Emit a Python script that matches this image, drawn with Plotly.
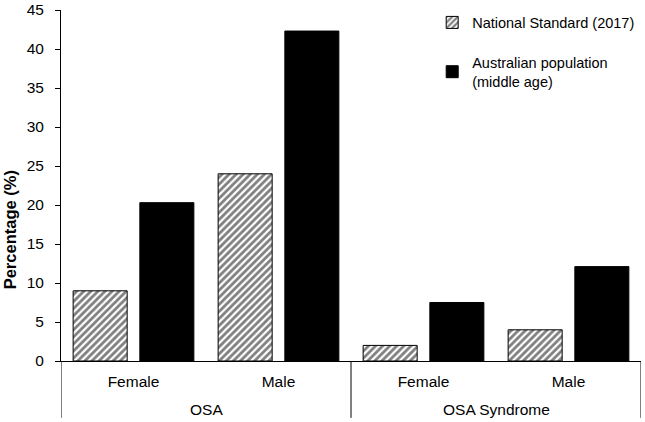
import plotly.graph_objects as go

groups = ["OSA", "OSA", "OSA Syndrome", "OSA Syndrome"]
sexes = ["Female", "Male", "Female", "Male"]
national = [9, 24, 2, 4]
australian = [20.3, 42.3, 7.5, 12.1]
y_ticks = [0, 5, 10, 15, 20, 25, 30, 35, 40, 45]
group_labels = ["OSA", "OSA Syndrome"]

cats = [g + " " + s for g, s in zip(groups, sexes)]

fig = go.Figure()
fig.add_trace(go.Bar(
    x=cats, y=national, name="National Standard (2017)", legendgroup="a",
    marker=dict(color="white", line=dict(color="black", width=1),
                pattern=dict(shape="/", fgcolor="black", bgcolor="white", size=5, solidity=0.55)),
))
fig.add_trace(go.Bar(
    x=cats, y=australian, name="Australian population<br>(middle age)", legendgroup="b",
    marker=dict(color="black", line=dict(color="black", width=1)),
))

# group labels and dividers under the category axis
n_per_group = 2
for i, lab in enumerate(group_labels):
    fig.add_annotation(x=i * n_per_group + (n_per_group - 1) / 2, xref="x",
                       y=-0.137, yref="paper", text=lab, showarrow=False,
                       yanchor="middle", font=dict(size=15.5))
for k in range(len(group_labels) + 1):
    fig.add_shape(type="line", xref="x", yref="paper",
                  x0=k * n_per_group - 0.5, x1=k * n_per_group - 0.5,
                  y0=0, y1=-0.162, line=dict(color="black", width=1))

fig.add_annotation(x=-0.0875, xref="paper", xanchor="center", y=0.373, yref="paper",
                   yanchor="middle", text="<b>Percentage (%)</b>", textangle=-90,
                   showarrow=False, font=dict(size=16.5))

font = "Liberation Sans, Arial, sans-serif"
fig.update_layout(
    width=645, height=422,
    margin=dict(l=61, r=4, t=10, b=61),
    paper_bgcolor="white", plot_bgcolor="white",
    barmode="group", bargap=0.08, bargroupgap=0.19,
    font=dict(family=font, size=15.5, color="black"),
    showlegend=True,
    legend=dict(x=0.64, y=1.01, xanchor="left", yanchor="top",
                font=dict(size=14.5), bgcolor="rgba(0,0,0,0)",
                tracegroupgap=18, itemwidth=30),
    xaxis=dict(showline=True, linecolor="black", linewidth=1, ticks="",
               tickvals=cats, ticktext=sexes, ticklabelstandoff=6,
               range=[-0.5, 3.5], automargin=False),
    yaxis=dict(range=[0, 45], tickvals=y_ticks, showline=True, linecolor="black",
               linewidth=1, ticks="outside", ticklen=5, tickcolor="black",
               showgrid=False, zeroline=False, automargin=False,
               ticklabelstandoff=8),
)
fig.write_html("out.html")
